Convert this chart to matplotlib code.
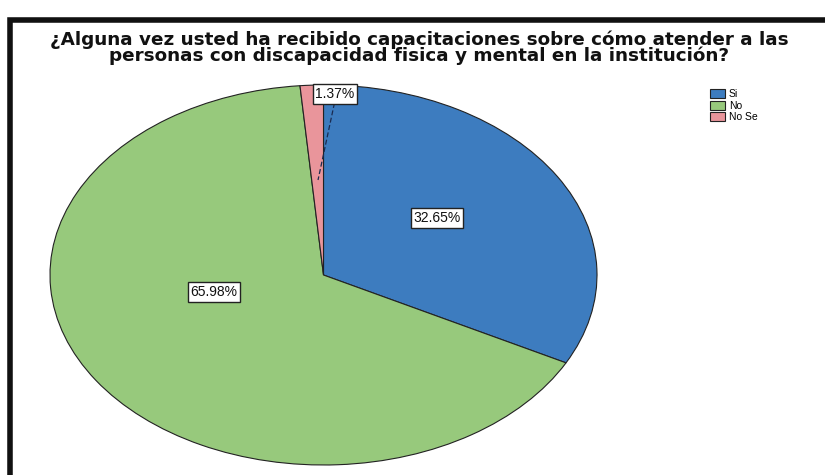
import matplotlib.pyplot as plt
from matplotlib.patches import Rectangle

# Data
categories = ['Si', 'No', 'No Se']
percentages = [32.65, 65.98, 1.37]
colors = ['#3d7cbf', '#97c97c', '#e9959b']
title = ('¿Alguna vez usted ha recibido capacitaciones sobre cómo atender a las\n'
         'personas con discapacidad fisica y mental en la institución?')

W, H = 825, 475
fig = plt.figure(figsize=(W / 100, H / 100), dpi=100)
fig.patch.set_facecolor('white')

# black frame (cut off at the right and bottom, like the scan)
fig.patches.append(Rectangle((10 / W, -0.05), 1.2, (H - 20) / H + 0.05,
                             transform=fig.transFigure, fill=False,
                             edgecolor='#111111', linewidth=4))

fig.text(0.508, 1 - 48 / H, title, ha='center', va='center',
         fontsize=13.2, fontweight='bold', family='DejaVu Sans',
         linespacing=0.85, color='#111111')

# pie axes stretched into an ellipse
ax = fig.add_axes([50 / W, 10 / H, 547 / W, 380 / H])
wedges, _ = ax.pie(percentages, colors=colors, startangle=90, counterclock=False,
                   wedgeprops=dict(edgecolor='#222222', linewidth=0.8))
ax.set_aspect('auto')
ax.set_xlim(-1, 1)
ax.set_ylim(-1, 1)

box = dict(boxstyle='square,pad=0.2', facecolor='white', edgecolor='#222222', linewidth=1)
label_pos = [(0.415, 0.30), (-0.40, -0.09), (0.042, 0.953)]
for pct, (x, y) in zip(percentages, label_pos):
    ax.text(x, y, f'{pct:.2f}%', ha='center', va='center', fontsize=10,
            family='Liberation Sans', bbox=box, color='#111111', zorder=5)

# leader line for the small slice
ax.plot([0.04, -0.02], [0.905, 0.50], color='#1a2a50', linewidth=0.9,
        linestyle=(0, (4, 2)), zorder=4)

fig.legend(wedges, categories, loc='upper left', bbox_to_anchor=(705 / W, 1 - 84 / H),
           frameon=False, handlelength=1.4, handleheight=0.9,
           handletextpad=0.4, labelspacing=0.15, borderpad=0,
           prop={'family': 'Liberation Sans', 'size': 7.5})

fig.savefig('out.png', dpi=100)
